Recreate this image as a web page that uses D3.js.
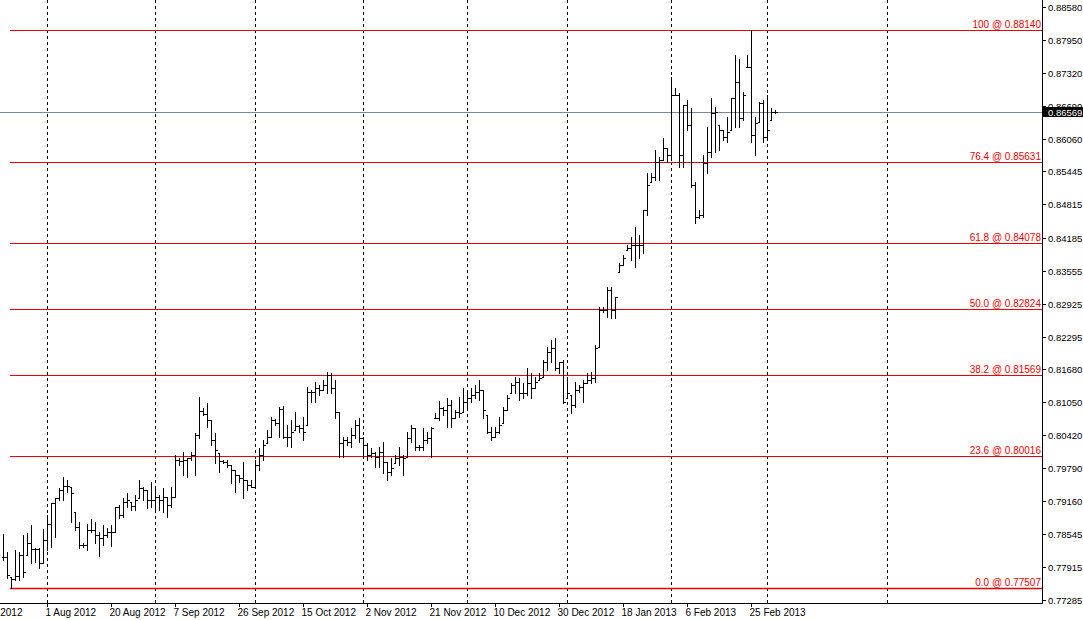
<!DOCTYPE html>
<html><head><meta charset="utf-8">
<script src="https://cdn.jsdelivr.net/npm/d3@7"></script>
<style>body{margin:0;background:#fff}svg{display:block;font-family:"Liberation Sans",Arial,sans-serif}</style>
</head><body><svg id="c" width="1083" height="620"></svg>
<script>
const high=[0.7854,0.7819,0.7772,0.7823,0.7819,0.7852,0.7856,0.7871,0.7827,0.7827,0.7863,0.7890,0.7913,0.7922,0.7941,0.7962,0.7957,0.7943,0.7896,0.7877,0.7837,0.7873,0.7882,0.7877,0.7858,0.7871,0.7865,0.7871,0.7905,0.7909,0.7922,0.7932,0.7915,0.7928,0.7957,0.7943,0.7938,0.7953,0.7941,0.7928,0.7941,0.7924,0.7943,0.8004,0.7999,0.8010,0.7999,0.8010,0.8046,0.8115,0.8094,0.8103,0.8071,0.8046,0.8008,0.7995,0.7995,0.7985,0.7976,0.7966,0.7991,0.7957,0.7957,0.7995,0.8018,0.8033,0.8052,0.8077,0.8073,0.8096,0.8098,0.8061,0.8071,0.8086,0.8061,0.8077,0.8134,0.8128,0.8143,0.8138,0.8147,0.8163,0.8161,0.8147,0.8086,0.8039,0.8039,0.8056,0.8071,0.8075,0.8039,0.8027,0.8018,0.8010,0.8020,0.8029,0.7991,0.7999,0.8004,0.8020,0.8004,0.8048,0.8061,0.8056,0.8023,0.8056,0.8048,0.8058,0.8084,0.8107,0.8096,0.8113,0.8109,0.8090,0.8115,0.8132,0.8128,0.8132,0.8138,0.8147,0.8128,0.8080,0.8058,0.8058,0.8077,0.8096,0.8119,0.8141,0.8153,0.8151,0.8141,0.8170,0.8161,0.8153,0.8161,0.8185,0.8210,0.8223,0.8227,0.8182,0.8185,0.8153,0.8119,0.8143,0.8138,0.8147,0.8161,0.8163,0.8214,0.8286,0.8286,0.8324,0.8324,0.8305,0.8370,0.8385,0.8404,0.8419,0.8438,0.8423,0.8471,0.8541,0.8541,0.8585,0.8572,0.8608,0.8589,0.8724,0.8703,0.8694,0.8671,0.8681,0.8665,0.8524,0.8471,0.8576,0.8629,0.8684,0.8667,0.8633,0.8623,0.8648,0.8684,0.8766,0.8759,0.8696,0.8766,0.8814,0.8648,0.8677,0.8681,0.8690,0.8665,0.8661];
const low=[0.7804,0.7770,0.7751,0.7766,0.7766,0.7772,0.7814,0.7799,0.7801,0.7789,0.7799,0.7823,0.7829,0.7848,0.7918,0.7918,0.7934,0.7876,0.7861,0.7827,0.7829,0.7823,0.7858,0.7837,0.7812,0.7833,0.7848,0.7831,0.7858,0.7884,0.7886,0.7905,0.7900,0.7900,0.7922,0.7918,0.7903,0.7905,0.7896,0.7900,0.7896,0.7886,0.7905,0.7924,0.7985,0.7966,0.7962,0.7995,0.7966,0.8037,0.8080,0.8058,0.8023,0.7989,0.7972,0.7989,0.7981,0.7951,0.7934,0.7953,0.7922,0.7938,0.7943,0.7941,0.7976,0.7995,0.8027,0.8039,0.8061,0.8039,0.8037,0.8021,0.8020,0.8052,0.8048,0.8033,0.8061,0.8105,0.8105,0.8119,0.8128,0.8122,0.8122,0.8075,0.8000,0.8000,0.8023,0.8020,0.8037,0.8029,0.7999,0.7995,0.8000,0.7981,0.7981,0.7970,0.7957,0.7966,0.7989,0.7985,0.7966,0.8000,0.8029,0.8014,0.8014,0.8014,0.8027,0.8000,0.8075,0.8071,0.8080,0.8058,0.8058,0.8075,0.8077,0.8086,0.8096,0.8105,0.8113,0.8109,0.8075,0.8046,0.8033,0.8039,0.8046,0.8065,0.8090,0.8122,0.8122,0.8109,0.8113,0.8119,0.8113,0.8132,0.8147,0.8153,0.8166,0.8182,0.8166,0.8161,0.8103,0.8113,0.8084,0.8096,0.8124,0.8105,0.8141,0.8141,0.8143,0.8210,0.8276,0.8267,0.8265,0.8265,0.8353,0.8366,0.8395,0.8376,0.8362,0.8380,0.8389,0.8461,0.8524,0.8528,0.8528,0.8566,0.8562,0.8566,0.8690,0.8553,0.8553,0.8623,0.8515,0.8446,0.8456,0.8458,0.8541,0.8572,0.8581,0.8585,0.8604,0.8600,0.8623,0.8629,0.8629,0.8642,0.8743,0.8600,0.8576,0.8639,0.8600,0.8610,0.8642,0.8656];
const close=[0.7810,0.7776,0.7768,0.7774,0.7814,0.7781,0.7837,0.7825,0.7825,0.7799,0.7842,0.7873,0.7913,0.7922,0.7938,0.7945,0.7945,0.7932,0.7867,0.7833,0.7833,0.7861,0.7861,0.7852,0.7846,0.7852,0.7858,0.7858,0.7905,0.7890,0.7915,0.7918,0.7907,0.7918,0.7941,0.7938,0.7918,0.7918,0.7924,0.7918,0.7924,0.7909,0.7924,0.7995,0.7993,0.7995,0.7999,0.8004,0.8042,0.8088,0.8082,0.8071,0.8033,0.8014,0.7993,0.7991,0.7985,0.7976,0.7966,0.7960,0.7957,0.7947,0.7943,0.7985,0.8004,0.8023,0.8039,0.8071,0.8065,0.8092,0.8039,0.8039,0.8048,0.8059,0.8056,0.8048,0.8124,0.8124,0.8132,0.8128,0.8138,0.8157,0.8132,0.8086,0.8027,0.8033,0.8029,0.8042,0.8061,0.8037,0.8023,0.8004,0.8008,0.8000,0.8010,0.7991,0.7972,0.7980,0.7999,0.8000,0.7999,0.8037,0.8056,0.8019,0.8020,0.8033,0.8037,0.8056,0.8075,0.8094,0.8090,0.8100,0.8075,0.8086,0.8084,0.8105,0.8113,0.8119,0.8124,0.8128,0.8090,0.8048,0.8039,0.8048,0.8061,0.8090,0.8113,0.8138,0.8143,0.8122,0.8122,0.8141,0.8132,0.8143,0.8151,0.8182,0.8200,0.8208,0.8170,0.8182,0.8105,0.8122,0.8100,0.8128,0.8134,0.8141,0.8147,0.8151,0.8208,0.8280,0.8280,0.8319,0.8280,0.8305,0.8366,0.8380,0.8399,0.8404,0.8404,0.8404,0.8471,0.8519,0.8534,0.8562,0.8566,0.8589,0.8576,0.8690,0.8690,0.8576,0.8671,0.8633,0.8519,0.8458,0.8461,0.8560,0.8581,0.8656,0.8658,0.8623,0.8610,0.8619,0.8684,0.8715,0.8646,0.8690,0.8743,0.8614,0.8637,0.8675,0.8610,0.8623,0.8658,0.86569];
const startDate="2012-07-19";
const holidays=["2012-12-25","2013-01-01"];
const dateLabels=["11 Jul 2012","1 Aug 2012","20 Aug 2012","7 Sep 2012","26 Sep 2012","15 Oct 2012","2 Nov 2012","21 Nov 2012","10 Dec 2012","30 Dec 2012","18 Jan 2013","6 Feb 2013","25 Feb 2013"];
const dateLabelIdx=[-7.5,11,27,43,59,75,91,107,123,139,155,171,187];
const priceTicks=[0.88580,0.87950,0.87320,0.86690,0.86060,0.85445,0.84815,0.84185,0.83555,0.82925,0.82295,0.81680,0.81050,0.80420,0.79790,0.79160,0.78545,0.77915,0.77285];
const fibLevels=["100","76.4","61.8","50.0","38.2","23.6","0.0"];
const fibPrices=[0.88140,0.85631,0.84078,0.82824,0.81569,0.80016,0.77507];
const currentPrice=0.86569;

const svg=d3.select("#c");
const W=1042,H=603;
const x=d3.scaleLinear().domain([0,193]).range([3,775]);
const y=d3.scaleLinear().domain([0.77507,0.88140]).range([588,30]);

const fmt=d3.timeFormat("%Y-%m-%d");
const dates=[];let d=new Date(startDate+"T12:00:00");
while(dates.length<230){if(d.getDay()!==6&&!holidays.includes(fmt(d)))dates.push(new Date(d));d.setDate(d.getDate()+1);}
let seps=[];for(let i=1;i<dates.length;i++)if(dates[i].getMonth()!==dates[i-1].getMonth())seps.push(i);
seps=seps.filter(i=>i<200);seps.push(221);
const g=svg.append("g");
g.selectAll("line.sep").data(seps).join("line")
 .attr("x1",i=>Math.round(x(i))+0.5).attr("x2",i=>Math.round(x(i))+0.5).attr("y1",0).attr("y2",H)
 .attr("stroke","#000").attr("stroke-dasharray","3,3");

g.selectAll("line.fib").data(fibPrices).join("line")
 .attr("x1",10).attr("x2",W).attr("y1",p=>Math.round(y(p))+0.5).attr("y2",p=>Math.round(y(p))+0.5)
 .attr("stroke","#f00000").attr("stroke-width",(p,i)=>i===6?1.5:1);
g.selectAll("text.fib").data(fibPrices).join("text")
 .attr("x",1041).attr("y",p=>Math.round(y(p))-2).attr("text-anchor","end").attr("fill","#f00000")
 .attr("font-size",10).text((p,i)=>fibLevels[i]+" @ "+p.toFixed(5));

g.append("line").attr("x1",0).attr("x2",W).attr("y1",Math.round(y(currentPrice))+0.5).attr("y2",Math.round(y(currentPrice))+0.5).attr("stroke","#778899");

const bars=g.append("g").attr("stroke","#000").attr("shape-rendering","crispEdges");
high.forEach((h,i)=>{
  const xi=Math.round(x(i))+0.5;
  const o=i===0?close[0]:Math.max(low[i],Math.min(h,close[i-1]));
  bars.append("line").attr("x1",xi).attr("x2",xi).attr("y1",Math.round(y(h))).attr("y2",Math.round(y(low[i]))+1);
  bars.append("line").attr("x1",xi-2).attr("x2",xi).attr("y1",Math.round(y(o))+0.5).attr("y2",Math.round(y(o))+0.5);
  bars.append("line").attr("x1",xi).attr("x2",xi+2).attr("y1",Math.round(y(close[i]))+0.5).attr("y2",Math.round(y(close[i]))+0.5);
});

svg.append("line").attr("x1",W+0.5).attr("x2",W+0.5).attr("y1",0).attr("y2",H+0.5).attr("stroke","#000");
svg.append("line").attr("x1",0).attr("x2",W+0.5).attr("y1",H+0.5).attr("y2",H+0.5).attr("stroke","#000");
const pa=svg.append("g");
priceTicks.forEach(p=>{
  const yy=Math.round(y(p))+0.5;
  pa.append("line").attr("x1",W).attr("x2",W+4).attr("y1",yy).attr("y2",yy).attr("stroke","#000");
  pa.append("text").attr("x",1048).attr("y",yy+3.5).attr("font-size",9.5).text(p.toFixed(5));
});
const cy=Math.round(y(currentPrice));
pa.append("rect").attr("x",1043).attr("y",cy-5).attr("width",40).attr("height",10).attr("fill","#000");
pa.append("text").attr("x",1048).attr("y",cy+3.5).attr("font-size",9.5).attr("fill","#fff").text(currentPrice.toFixed(5));
dateLabels.forEach((t,i)=>{
  const xx=Math.round(x(dateLabelIdx[i]))+0.5;
  svg.append("line").attr("x1",xx).attr("x2",xx).attr("y1",H).attr("y2",H+4).attr("stroke","#000");
  svg.append("text").attr("x",xx-2).attr("y",616).attr("font-size",10).text(t);
});
</script></body></html>
